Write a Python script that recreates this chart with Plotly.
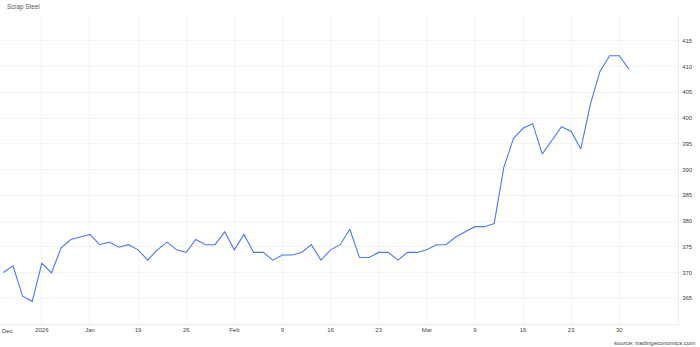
import pandas as pd
import plotly.graph_objects as go

dates = [d.strftime("%Y-%m-%d") for d in pd.bdate_range("2025-12-30", "2026-03-31")]
values = [
    370.0, 371.3, 365.4, 364.4, 371.8, 369.9, 374.8, 376.4, 376.9, 377.4,
    375.4, 375.9, 374.9, 375.4, 374.4, 372.4, 374.4, 375.9, 374.4, 373.9,
    376.4, 375.4, 375.4, 377.9, 374.4, 377.4, 373.9, 373.9, 372.4, 373.4,
    373.4, 373.9, 375.4, 372.4, 374.4, 375.4, 378.4, 372.9, 372.9, 373.9,
    373.9, 372.4, 373.9, 373.9, 374.4, 375.4, 375.4, 376.9, 377.9, 378.9,
    378.9, 379.5, 390.4, 396.0, 398.0, 398.9, 393.0, 395.7, 398.3,
    397.4, 394.0, 402.7, 409.1, 412.1, 412.1, 409.5,
]

tick_dates = ["2026-01-05", "2026-01-12", "2026-01-19", "2026-01-26", "2026-02-02",
              "2026-02-09", "2026-02-16", "2026-02-23", "2026-03-02", "2026-03-09",
              "2026-03-16", "2026-03-23", "2026-03-30"]
tick_labels = ["2026", "Jan", "19", "26", "Feb", "9", "16", "23", "Mar", "9", "16", "23", "30"]
y_ticks = [365, 370, 375, 380, 385, 390, 395, 400, 405, 410, 415]

font = "Liberation Sans, Arial, sans-serif"

fig = go.Figure()
fig.add_trace(go.Scatter(
    x=dates, y=values, mode="lines",
    line=dict(color="#4a78f5", width=1.1),
    hoverinfo="x+y",
))

fig.update_layout(
    width=700, height=347,
    margin=dict(l=0, r=22, t=15, b=23),
    paper_bgcolor="white", plot_bgcolor="white",
    showlegend=False,
    font=dict(family=font, size=6, color="#444"),
    xaxis=dict(
        type="category",
        range=[-0.35, 70.1],
        tickmode="array", tickvals=tick_dates, ticktext=tick_labels,
        showgrid=True, gridcolor="#f3f3f3", gridwidth=1,
        showline=True, linecolor="#ececec", linewidth=1,
        ticks="", tickfont=dict(size=6, color="#444"),
        zeroline=False,
    ),
    yaxis=dict(
        side="right",
        range=[360, 420],
        tickmode="array", tickvals=y_ticks,
        showgrid=True, gridcolor="#f3f3f3", gridwidth=1,
        showline=True, linecolor="#ececec", linewidth=1,
        ticks="", ticklabelstandoff=2, tickfont=dict(size=6, color="#444"),
        zeroline=False,
    ),
    annotations=[
        dict(text="Scrap Steel", xref="paper", yref="paper", x=0.007, y=1.0,
             yshift=8, xanchor="left", yanchor="middle", showarrow=False,
             font=dict(size=6.3, color="#555")),
        dict(text="Dec", xref="paper", yref="paper", x=0.0, y=0,
             yshift=-7, xanchor="left", yanchor="middle", showarrow=False,
             font=dict(size=6, color="#444")),
        dict(text="source: tradingeconomics.com", xref="paper", yref="paper",
             x=1.0, xshift=19, y=0, yshift=-19, xanchor="right", yanchor="middle",
             showarrow=False, font=dict(size=6, color="#444")),
    ],
)

fig.write_html("out.html")
